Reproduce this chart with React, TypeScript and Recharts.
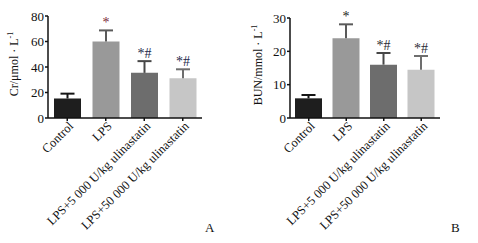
import React from "react"
import { BarChart, Bar, XAxis, YAxis, Cell, LabelList } from "recharts"

const groups = [
  "Control",
  "LPS",
  "LPS+5 000 U/kg ulinastatin",
  "LPS+50 000 U/kg ulinastatin",
]
const crMean = [15.3, 60, 35.4, 31.1]
const crErr = [3.8, 8.7, 9.2, 7.1]
const bunMean = [5.9, 23.9, 16, 14.5]
const bunErr = [1, 4.2, 3.5, 4.1]
const marks = ["", "*", "*#", "*#"]
const crTicks = [0, 20, 40, 60, 80]
const bunTicks = [0, 10, 20, 30]

const BAR_COLORS = ["#1e1e1e", "#999999", "#6d6d6d", "#c6c6c6"]
const ERR_COLORS = ["#151515", "#5a5a5a", "#474747", "#6e6e6e"]
const FONT = "'Liberation Serif', 'DejaVu Serif', serif"

function SlantTick({ x, y, payload }: any) {
  return (
    <g transform={`translate(${x + 4},${y + 1})`}>
      <text
        x={0}
        y={0}
        dy={4}
        textAnchor="end"
        transform="rotate(-45)"
        fontSize={12.5}
        fontFamily={FONT}
        fill="#111"
      >
        {payload.value}
      </text>
    </g>
  )
}

// error bar drawn as the shape of a transparent stacked bar
function ErrShape(props: any) {
  const { x, y, width, height, index } = props
  const cx = x + width / 2
  const c = ERR_COLORS[index]
  return (
    <g>
      <line x1={cx} y1={y} x2={cx} y2={y + height} stroke={c} strokeWidth={2} />
      <line x1={cx - 7} y1={y} x2={cx + 7} y2={y} stroke={c} strokeWidth={2} />
    </g>
  )
}

function MarkLabel(props: any) {
  const { x, y, width, value, index, lpsColor, markColor } = props
  if (!value) return null
  const color = index === 1 ? lpsColor : markColor
  return (
    <text
      x={x + width / 2}
      y={y - 3}
      textAnchor="middle"
      fontSize={14}
      fontFamily={FONT}
      fill={color}
    >
      {value}
    </text>
  )
}

function YLabel({ viewBox, text, dx }: any) {
  const cx = viewBox.x + dx
  const cy = viewBox.y + viewBox.height / 2 - 3
  return (
    <text
      x={cx}
      y={cy}
      transform={`rotate(-90,${cx},${cy})`}
      textAnchor="middle"
      fontSize={12}
      fontFamily={FONT}
      fill="#111"
    >
      {text}
      <tspan fontSize={8} dy={-5}>-1</tspan>
    </text>
  )
}

function Panel({
  mean,
  err,
  ticks,
  label,
  width,
  margin,
  labelDx,
  lpsColor,
  markColor,
}: {
  mean: number[]
  err: number[]
  ticks: number[]
  label: string
  width: number
  margin: { top: number; right: number; left: number; bottom: number }
  labelDx: number
  lpsColor: string
  markColor: string
}) {
  const data = groups.map((name, i) => ({
    name,
    mean: mean[i],
    err: err[i],
    mark: marks[i],
  }))
  const axisProps = {
    stroke: "#111",
    strokeWidth: 1.5,
  }
  return (
    <BarChart width={width} height={243} data={data} margin={margin} barSize={27}>
      <YAxis
        type="number"
        domain={[0, ticks[ticks.length - 1]]}
        ticks={ticks}
        interval={0}
        width={40}
        tickSize={3}
        tickMargin={1}
        axisLine={axisProps}
        tickLine={axisProps}
        tick={{ fontSize: 13, fontFamily: FONT, fill: "#111" }}
        label={{ content: (p: any) => <YLabel {...p} text={label} dx={labelDx} /> }}
      />
      <XAxis
        dataKey="name"
        interval={0}
        height={125}
        tickSize={3}
        axisLine={axisProps}
        tickLine={axisProps}
        tick={<SlantTick />}
      />
      <Bar dataKey="mean" stackId="s" isAnimationActive={false}>
        {data.map((d, i) => (
          <Cell key={d.name} fill={BAR_COLORS[i]} />
        ))}
      </Bar>
      <Bar dataKey="err" stackId="s" fill="transparent" shape={<ErrShape />} isAnimationActive={false}>
        <LabelList
          dataKey="mark"
          content={<MarkLabel lpsColor={lpsColor} markColor={markColor} />}
        />
      </Bar>
    </BarChart>
  )
}

export default function App() {
  return (
    <div
      style={{
        position: "absolute",
        left: 0,
        top: 0,
        width: 478,
        height: 243,
        background: "#fff",
        fontFamily: FONT,
      }}
    >
      <div style={{ position: "absolute", left: 0, top: 0 }}>
        <Panel
          mean={crMean}
          err={crErr}
          ticks={crTicks}
          label="Cr/μmol · L"
          width={240}
          margin={{ top: 16, right: 38, left: 8, bottom: 0 }}
          labelDx={10}
          lpsColor="#7a2638"
          markColor="#23284a"
        />
      </div>
      <div style={{ position: "absolute", left: 240, top: 0 }}>
        <Panel
          mean={bunMean}
          err={bunErr}
          ticks={bunTicks}
          label="BUN/mmol · L"
          width={238}
          margin={{ top: 18, right: 38, left: 10, bottom: 0 }}
          labelDx={12}
          lpsColor="#222222"
          markColor="#2a2a33"
        />
      </div>
      <div style={{ position: "absolute", left: 205, top: 220, fontSize: 13, color: "#111" }}>A</div>
      <div style={{ position: "absolute", left: 451, top: 220, fontSize: 13, color: "#111" }}>B</div>
    </div>
  )
}
